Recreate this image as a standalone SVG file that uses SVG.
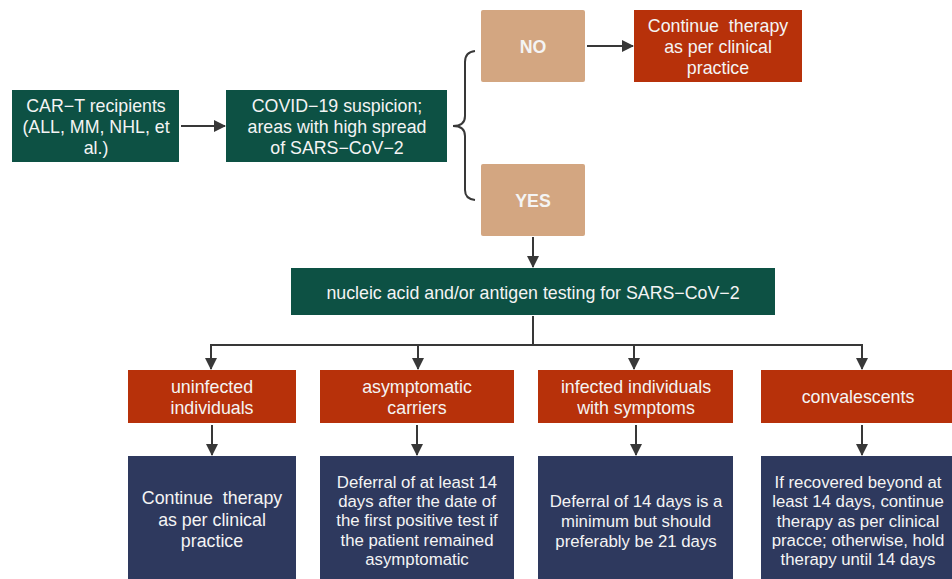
<svg xmlns="http://www.w3.org/2000/svg" width="952" height="579" viewBox="0 0 952 579">
<defs>
<style>
.g{fill:#0d5144}
.r{fill:#b7310a}
.t{fill:#d3a681}
.b{fill:#2e395e}
text{font-family:"Liberation Sans",Arial,sans-serif;font-size:17.8px;fill:#f4f4f4;text-anchor:middle}
.sm{font-size:16.8px}
.bold{font-weight:bold}
.ln{stroke:#383838;stroke-width:2;fill:none}
</style>
<marker id="ah" markerWidth="12" markerHeight="12" refX="11" refY="6" orient="auto" markerUnits="userSpaceOnUse">
<path d="M0,0 L12,6 L0,12 Z" fill="#383838"/>
</marker>
</defs>
<rect width="952" height="579" fill="#ffffff"/>
<g id="connectors">
<line class="ln" x1="181" y1="126" x2="225" y2="126" marker-end="url(#ah)"/>
<path class="ln" d="M475,51 Q465,52 465,62 L465,116 Q465,126 453,126 Q465,126 465,136 L465,190 Q465,199 475,200"/>
<line class="ln" x1="587" y1="46" x2="633" y2="46" marker-end="url(#ah)"/>
<line class="ln" x1="533" y1="237" x2="533" y2="267" marker-end="url(#ah)"/>
<line class="ln" x1="533" y1="316" x2="533" y2="345"/>
<line class="ln" x1="210" y1="345" x2="863" y2="345"/>
<line class="ln" x1="211" y1="345" x2="211" y2="369" marker-end="url(#ah)"/>
<line class="ln" x1="418" y1="345" x2="418" y2="369" marker-end="url(#ah)"/>
<line class="ln" x1="634" y1="345" x2="634" y2="369" marker-end="url(#ah)"/>
<line class="ln" x1="862" y1="345" x2="862" y2="369" marker-end="url(#ah)"/>
<line class="ln" x1="212" y1="425" x2="212" y2="455" marker-end="url(#ah)"/>
<line class="ln" x1="417" y1="425" x2="417" y2="455" marker-end="url(#ah)"/>
<line class="ln" x1="636" y1="425" x2="636" y2="455" marker-end="url(#ah)"/>
<line class="ln" x1="862" y1="425" x2="862" y2="455" marker-end="url(#ah)"/>
</g>
<g id="cart">
<rect class="g" x="12" y="90" width="167" height="72"/>
<text x="96" y="112">CAR−T recipients</text>
<text x="96" y="133">(ALL, MM, NHL, et</text>
<text x="96" y="154">al.)</text>
</g>
<g id="suspicion">
<rect class="g" x="226" y="90" width="221" height="72"/>
<text x="337" y="112">COVID−19 suspicion;</text>
<text x="337" y="133">areas with high spread</text>
<text x="337" y="154">of SARS−CoV−2</text>
</g>
<g id="no">
<rect class="t" x="481" y="10" width="104" height="72" rx="2"/>
<text class="bold" x="533" y="53">NO</text>
</g>
<g id="yes">
<rect class="t" x="481" y="164" width="104" height="72" rx="2"/>
<text class="bold" x="533" y="207">YES</text>
</g>
<g id="continue-top">
<rect class="r" x="634" y="10" width="168" height="72"/>
<text x="718" y="32">Continue&#160; therapy</text>
<text x="718" y="53">as per clinical</text>
<text x="718" y="74">practice</text>
</g>
<g id="testing">
<rect class="g" x="291" y="268" width="484" height="47"/>
<text x="533" y="299">nucleic acid and/or antigen testing for SARS−CoV−2</text>
</g>
<g id="uninfected">
<rect class="r" x="128" y="370" width="168" height="53"/>
<text x="212" y="393">uninfected</text>
<text x="212" y="414">individuals</text>
</g>
<g id="asymptomatic">
<rect class="r" x="320" y="370" width="194" height="53"/>
<text x="417" y="393">asymptomatic</text>
<text x="417" y="414">carriers</text>
</g>
<g id="infected">
<rect class="r" x="538" y="370" width="195" height="53"/>
<text x="636" y="393">infected individuals</text>
<text x="636" y="414">with symptoms</text>
</g>
<g id="convalescents">
<rect class="r" x="761" y="370" width="194" height="53"/>
<text x="858" y="403">convalescents</text>
</g>
<g id="res-uninfected">
<rect class="b" x="128" y="456" width="168" height="130"/>
<text x="212" y="504">Continue&#160; therapy</text>
<text x="212" y="526">as per clinical</text>
<text x="212" y="547">practice</text>
</g>
<g id="res-asymptomatic">
<rect class="b" x="320" y="456" width="194" height="130"/>
<text class="sm" x="417" y="488">Deferral of at least 14</text>
<text class="sm" x="417" y="507">days after the date of</text>
<text class="sm" x="417" y="526">the first positive test if</text>
<text class="sm" x="417" y="546">the patient remained</text>
<text class="sm" x="417" y="565">asymptomatic</text>
</g>
<g id="res-infected">
<rect class="b" x="538" y="456" width="195" height="130"/>
<text class="sm" x="636" y="507">Deferral of 14 days is a</text>
<text class="sm" x="636" y="527">minimum but should</text>
<text class="sm" x="636" y="547">preferably be 21 days</text>
</g>
<g id="res-convalescents">
<rect class="b" x="761" y="456" width="194" height="130"/>
<text class="sm" x="858" y="488">If recovered beyond at</text>
<text class="sm" x="858" y="507">least 14 days, continue</text>
<text class="sm" x="858" y="527">therapy as per clinical</text>
<text class="sm" x="858" y="546">pracce; otherwise, hold</text>
<text class="sm" x="858" y="565">therapy until 14 days</text>
</g>
</svg>
